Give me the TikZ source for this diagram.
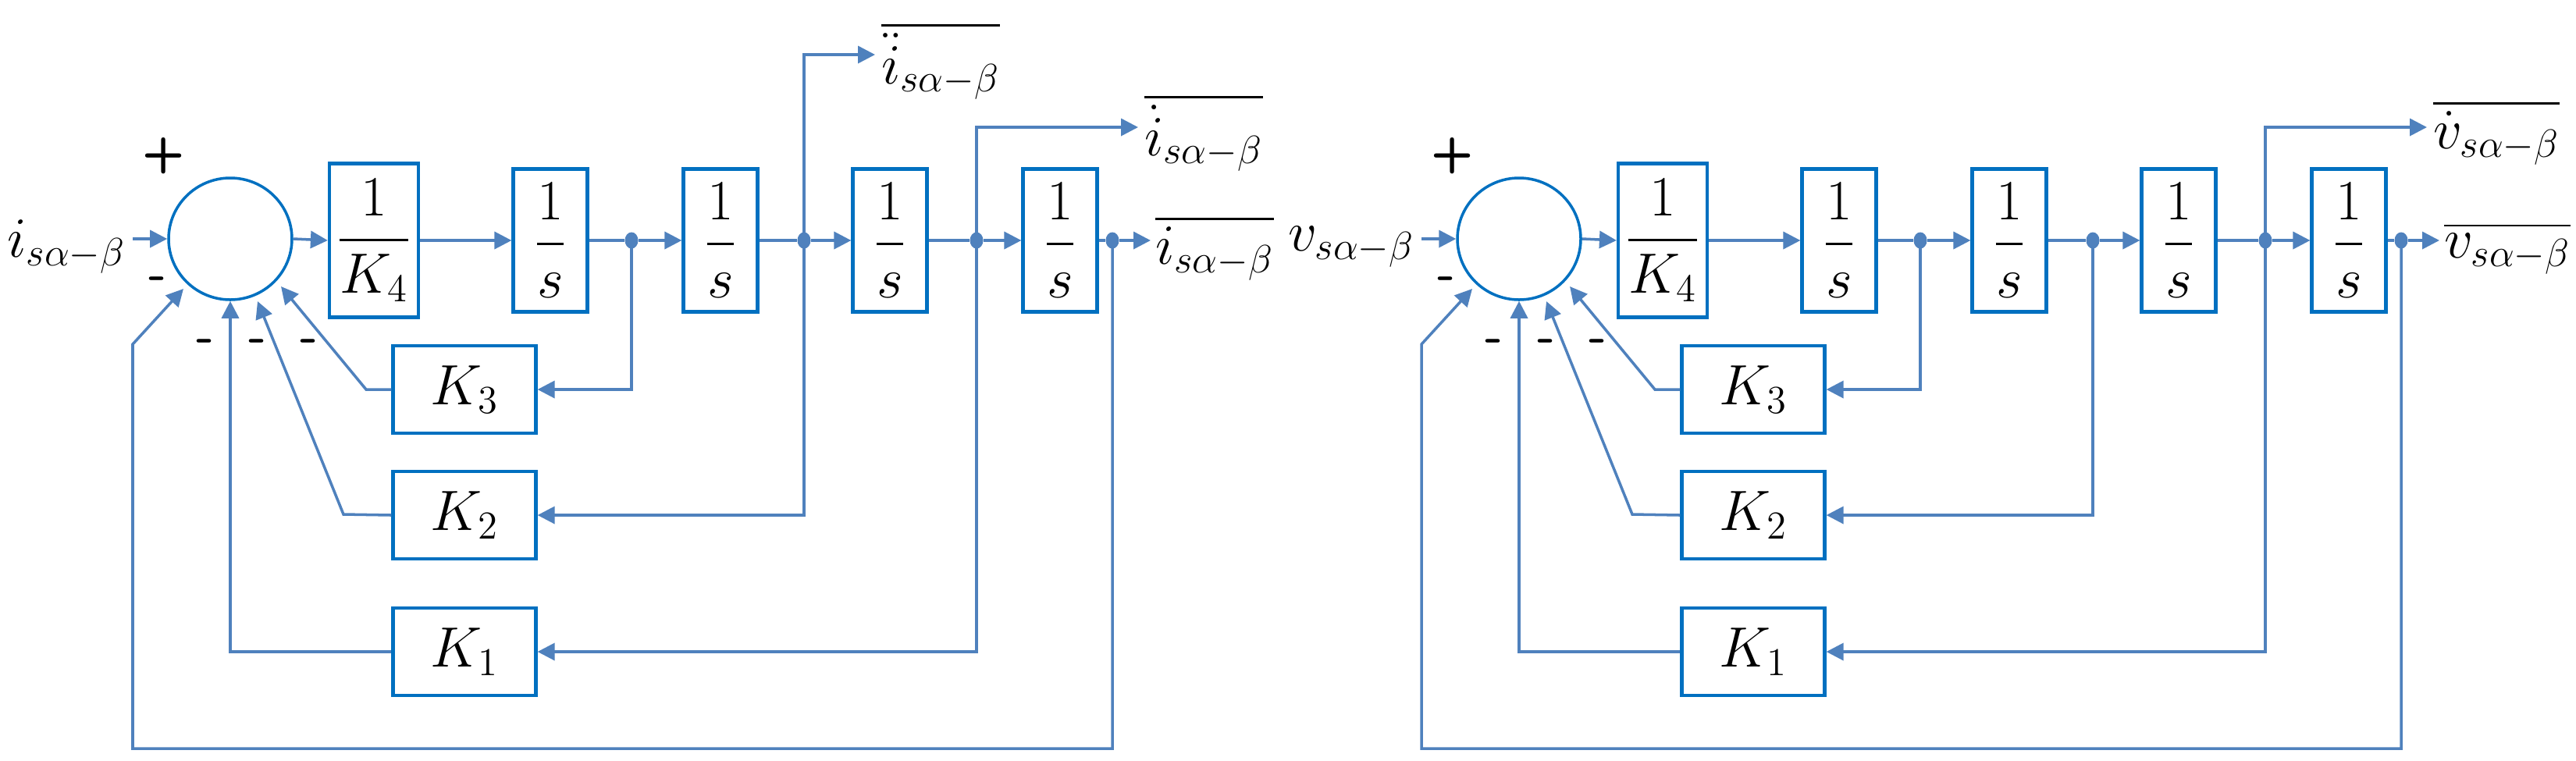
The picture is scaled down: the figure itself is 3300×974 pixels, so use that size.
\documentclass[tikz,border=0pt]{standalone}
\usepackage{amsmath}
\usepackage{fontspec}
\usetikzlibrary{arrows.meta,shapes.geometric}
\definecolor{ln}{RGB}{79,129,189}
\definecolor{bx}{RGB}{0,112,192}
\tikzset{
  w/.style={draw=ln,line width=1pt},
  a/.style={w,-{Triangle[length=2.2mm,width=2.2mm]}},
  box/.style={draw=bx,line width=1.2pt,rectangle,inner sep=0pt,font=\fontsize{21}{24}\selectfont},
  sbox/.style={box,minimum width=9.5mm,minimum height=18.3mm},
  kbox/.style={box,minimum width=18.3mm,minimum height=11.2mm},
  dot/.style={ellipse,fill=ln,inner sep=0pt,minimum width=1.7mm,minimum height=2.1mm},
  lab/.style={font=\fontsize{21}{24}\selectfont,inner sep=1pt},
  sg/.style={font=\fontsize{18}{20}\sffamily\bfseries,inner sep=0pt},
}
\newcommand\halfdiag[3]{%
 \begin{scope}[shift={(#1,0)}]
  \node[ellipse,draw=bx,line width=1pt,minimum width=15.8mm,minimum height=15.6mm,inner sep=0pt] (#2sum) at (295,306) {};
  \node[box,minimum width=11.4mm,minimum height=19.7mm] (#2k4) at (479,308) {$\dfrac{1}{K_4}$};
  \node[sbox] (#2s1) at (705,308) {$\dfrac{1}{s}$};
  \node[sbox] (#2s2) at (923,308) {$\dfrac{1}{s}$};
  \node[sbox] (#2s3) at (1140,308) {$\dfrac{1}{s}$};
  \node[sbox] (#2s4) at (1358,308) {$\dfrac{1}{s}$};
  \node[dot] (#2d1) at (809,308) {};
  \node[dot] (#2d2) at (1030,308) {};
  \node[dot] (#2d3) at (1251,308) {};
  \node[dot] (#2d4) at (1425,308) {};
  \node[kbox] (#2K3) at (595,499) {$K_3$};
  \node[kbox] (#2K2) at (595,660) {$K_2$};
  \node[kbox] (#2K1) at (595,835) {$K_1$};
  \coordinate (#2in) at (170,306);
  \coordinate (#2out) at (1474,308);
  \coordinate (#2dout) at (1458,163);
  \node[lab,anchor=east] (#2inl) at (165,316) {$#3_{s\alpha-\beta}$};
  \node[lab,anchor=west] (#2outl) at (1476,318) {$\overline{#3_{s\alpha-\beta}}$};
  \node[lab,anchor=west] (#2doutl) at (1462,170) {$\overline{\dot{#3}_{s\alpha-\beta}}$};
  \node[sg] (#2p) at (210,200) {+};
  \node[sg] (#2m0) at (202,363) {-};
  \node[sg] (#2m1) at (263,443) {-};
  \node[sg] (#2m2) at (330,443) {-};
  \node[sg] (#2m3) at (396,443) {-};
  \draw[a] (#2in) -- (#2sum.west);
  \draw[a] (#2sum.east) -- (#2k4.west);
  \draw[a] (#2k4.east) -- (#2s1.west);
  \draw[w] (#2s1.east) -- (#2d1); \draw[a] (#2d1) -- (#2s2.west);
  \draw[w] (#2s2.east) -- (#2d2); \draw[a] (#2d2) -- (#2s3.west);
  \draw[w] (#2s3.east) -- (#2d3); \draw[a] (#2d3) -- (#2s4.west);
  \draw[w] (#2s4.east) -- (#2d4); \draw[a] (#2d4) -- (#2out);
  \draw[a] (#2d3.center) -- ++(0,-145) -- (#2dout);
  \draw[a] (#2d1.center) |- (#2K3.east);
  \draw[a] (#2d3.center) |- (#2K1.east);
  \draw[a] (#2K3.west) -- (469,499) -- (360,367);
  \draw[a] (#2K2.west) -- (440,659) -- (330,386);
  \draw[a] (#2K1.west) -| (#2sum.south);
  \draw[a] (#2d4.center) -- (1425,959) -- (170,959) -- (170,441) -- (235,370);
 \end{scope}}
\begin{document}
\begin{tikzpicture}[x=0.1mm,y=-0.1mm]
\useasboundingbox (0,0) rectangle (3300,974);
\halfdiag{0}{L}{i}
\draw[a] (Ld2.center) |- (LK2.east);
\coordinate (Lddout) at (1121,70);
\draw[a] (Ld2.center) -- (1030,70) -- (Lddout);
\node[lab,anchor=west] (Lddoutl) at (1125,78) {$\overline{\ddot{i}_{s\alpha-\beta}}$};
\halfdiag{1651}{R}{v}
\draw[a] (Rd2.center) |- (RK2.east);
\end{tikzpicture}
\end{document}
